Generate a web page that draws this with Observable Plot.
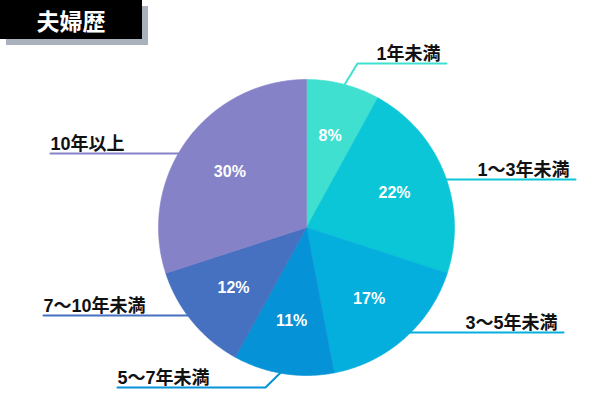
<!DOCTYPE html>
<html><head><meta charset="utf-8">
<script src="https://cdn.jsdelivr.net/npm/d3@7"></script>
<script src="https://cdn.jsdelivr.net/npm/@observablehq/plot@0.6"></script>
<style>
body{margin:0;background:#fff;}
#wrap{position:relative;width:600px;height:400px;overflow:hidden;}
#shadow{position:absolute;left:6px;top:6px;width:142px;height:39px;background:#a9b1bc;}
#title{position:absolute;left:0;top:0;width:142px;height:39px;background:#000;color:#fff;font:bold 23px "Noto Sans CJK JP",sans-serif;display:flex;align-items:center;justify-content:center;}
</style></head><body>
<div id="wrap"><div id="chart"></div><div id="shadow"></div><div id="title">夫婦歴</div></div>
<script>
// ---- data ----
const categories = ["1年未満","1〜3年未満","3〜5年未満","5〜7年未満","7〜10年未満","10年以上"];
const shares = [8,22,17,11,12,30];
const percentLabels = ["8%","22%","17%","11%","12%","30%"];
const colors = ["#3fe0d0","#0bc6d7","#05afdd","#0592d6","#4670c0","#8682c8"];

// ---- layout ----
const cx = 306, cy = 227, R = 148;
const leaderY     = [63, 179, 332, 387, 315, 153];
const leaderEndX  = [446, 575, 563, 117, 43, 50];
const leaderElbowX= [357, null, null, 265, null, null];
const labelRadius = 0.64;

const arcs = d3.pie().sort(null).value(d => d)(shares);
const pt = (a, r) => [cx + r * Math.sin(a), cy - r * Math.cos(a)];

// slice polygons
const slicePts = [];
arcs.forEach((a, i) => {
  const cat = categories[i];
  slicePts.push({cat, x: cx, y: cy});
  const n = Math.max(2, Math.ceil((a.endAngle - a.startAngle) / (Math.PI / 360)));
  for (let k = 0; k <= n; k++) {
    const ang = a.startAngle + (a.endAngle - a.startAngle) * k / n;
    const [x, y] = pt(ang, R);
    slicePts.push({cat, x, y});
  }
  slicePts.push({cat, x: cx, y: cy});
});

// percent labels
const pctPts = arcs.map((a, i) => {
  const m = (a.startAngle + a.endAngle) / 2;
  const [x, y] = pt(m, R * labelRadius);
  return {x, y, t: percentLabels[i]};
});

// leader lines
const leaderPts = [];
const catLabels = [];
arcs.forEach((a, i) => {
  const cat = categories[i];
  const m = (a.startAngle + a.endAngle) / 2;
  const right = Math.sin(m) > 0;
  const ly = leaderY[i];
  let p0, p1;
  if (leaderElbowX[i] != null) {
    p0 = pt(m, R * 0.97);
    p1 = [leaderElbowX[i], ly];
  } else {
    p0 = pt(m, R * 0.85);
    const dx = Math.sqrt(Math.max(0, (R - 3) ** 2 - (ly - cy) ** 2));
    p1 = [cx + (right ? dx : -dx), ly];
  }
  const p2 = [leaderEndX[i], ly];
  [p0, p1, p2].forEach(([x, y]) => leaderPts.push({cat, x, y}));
  catLabels.push({cat, right, x: right ? leaderEndX[i] - 6 : leaderEndX[i], y: ly - 4});
});

const labelFont = "'Liberation Sans','Noto Sans CJK JP',sans-serif";
const plot = Plot.plot({
  width: 600, height: 400, margin: 0,
  x: {domain: [0, 600], range: [0, 600], axis: null},
  y: {domain: [0, 400], range: [0, 400], axis: null},
  color: {domain: categories, range: colors},
  marks: [
    Plot.line(leaderPts, {x: "x", y: "y", z: "cat", stroke: "cat", strokeWidth: 2}),
    Plot.line(slicePts, {x: "x", y: "y", z: "cat", fill: "cat", stroke: "cat", strokeWidth: 0.6}),
    Plot.text(pctPts, {x: "x", y: "y", text: "t", fill: "white", fontSize: 16, fontWeight: "bold", fontFamily: "'Liberation Sans',Arial,sans-serif"}),
    Plot.text(catLabels.filter(d => d.right), {x: "x", y: "y", text: "cat", textAnchor: "end", lineAnchor: "bottom", fill: "#111", fontSize: 18, fontWeight: "bold", fontFamily: labelFont}),
    Plot.text(catLabels.filter(d => !d.right), {x: "x", y: "y", text: "cat", textAnchor: "start", lineAnchor: "bottom", fill: "#111", fontSize: 18, fontWeight: "bold", fontFamily: labelFont})
  ]
});
document.getElementById("chart").appendChild(plot);
</script>
</body></html>
